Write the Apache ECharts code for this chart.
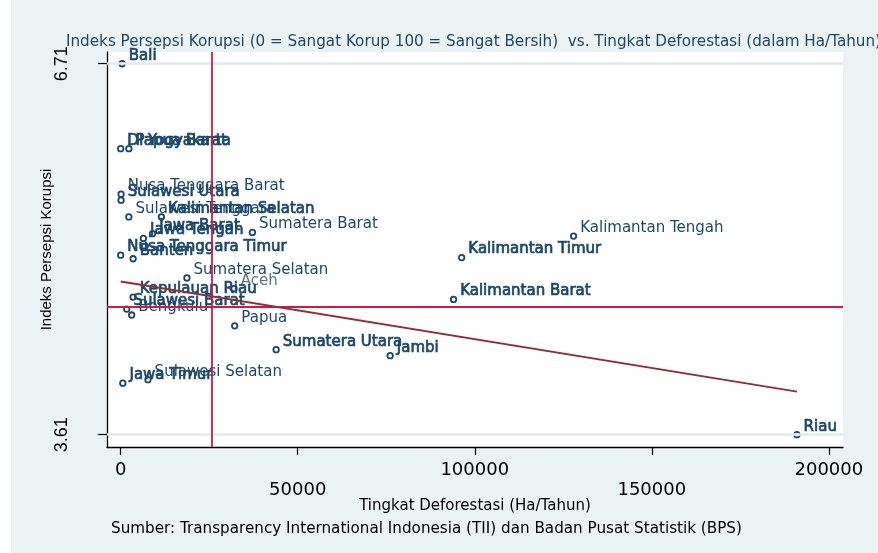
<!DOCTYPE html>
<html>
<head>
<meta charset="utf-8">
<script src="https://cdn.jsdelivr.net/npm/echarts@6/dist/echarts.min.js"></script>
<style>
html,body{margin:0;padding:0;background:#fff;}
#main{width:878px;height:553px;}
</style>
</head>
<body>
<div id="main"></div>
<script>
// data
var provinsi = ['Bali','DI Yogyakarta','Papua Barat','Nusa Tenggara Barat','Sulawesi Utara','Sulawesi Tenggara',
    'Kalimantan Selatan','Jawa Barat','Jawa Tengah','Sumatera Barat','Nusa Tenggara Timur','Banten',
    'Sumatera Selatan','Aceh','Kepulauan Riau','Sulawesi Barat','Bengkulu','Papua','Sumatera Utara','Jambi',
    'Jawa Timur','Sulawesi Selatan','Kalimantan Tengah','Kalimantan Timur','Kalimantan Barat','Riau'];
var deforestasi = [400, 0, 2300, 100, 100, 2300,
    11500, 9000, 6400, 37200, 0, 3500,
    18700, 32000, 3500, 1700, 3100, 32200, 43900, 76100,
    600, 7700, 127900, 96300, 94000, 191000];
var ipk = [6.71, 6.00, 6.00, 5.62, 5.57, 5.43,
    5.43, 5.29, 5.25, 5.30, 5.11, 5.08,
    4.92, 4.83, 4.76, 4.66, 4.61, 4.52, 4.32, 4.27,
    4.04, 4.07, 5.27, 5.09, 4.74, 3.61];
var xTicks = [0, 50000, 100000, 150000, 200000];
var yTicks = [3.61, 6.71];
var rataDeforestasi = 25800;
var rataIpk = 4.685;
var fitX = [0, 191000];
var fitY = [4.89, 3.97];

// labels that look heavier in the picture
var tebal = ['Bali','DI Yogyakarta','Papua Barat','Sulawesi Utara','Kalimantan Selatan','Jawa Barat','Jawa Tengah',
    'Nusa Tenggara Timur','Banten','Kepulauan Riau','Sulawesi Barat','Sumatera Utara','Jambi','Jawa Timur',
    'Kalimantan Timur','Kalimantan Barat','Riau'];

var navy = '#1a476f';
var titik = provinsi.map(function (p, i) {
    var lbl = {};
    if (tebal.indexOf(p) >= 0) {
        lbl.textBorderColor = navy;
        lbl.textBorderWidth = 0.7;
    }
    if (p === 'Aceh') {
        lbl.color = '#56779b';
    }
    return {name: p, value: [deforestasi[i], ipk[i]], label: lbl};
});
var garisFit = fitX.map(function (x, i) { return [x, fitY[i]]; });

var myChart = echarts.init(document.getElementById('main'));
var option = {
    animation: false,
    backgroundColor: '#eaf2f3',
    title: [{
        text: 'Indeks Persepsi Korupsi (0 = Sangat Korup 100 = Sangat Bersih)  vs. Tingkat Deforestasi (dalam Ha/Tahun)',
        left: 61,
        top: 30,
        textStyle: {color: navy, fontFamily: 'DejaVu Sans', fontSize: 15.2, fontWeight: 'normal'}
    }, {
        text: 'Sumber: Transparency International Indonesia (TII) dan Badan Pusat Statistik (BPS)',
        left: 106,
        top: 517,
        textStyle: {color: '#000', fontFamily: 'DejaVu Sans', fontSize: 15.2, fontWeight: 'normal'}
    }],
    graphic: [{
        type: 'rect',
        left: 0, top: 0,
        shape: {width: 11, height: 553},
        style: {fill: '#fff'}
    }],
    grid: {
        left: 107,
        right: 35,
        top: 52,
        bottom: 106,
        show: true,
        backgroundColor: '#fff',
        borderWidth: 0
    },
    xAxis: {
        type: 'value',
        min: -3870,
        max: 204000,
        name: 'Tingkat Deforestasi (Ha/Tahun)',
        nameLocation: 'middle',
        nameGap: 52,
        nameMoveOverlap: false,
        nameTextStyle: {color: '#000', fontFamily: 'DejaVu Sans', fontSize: 15},
        axisLine: {onZero: false, lineStyle: {color: '#000', width: 1.3}},
        axisTick: {customValues: xTicks, length: 8, lineStyle: {color: '#000', width: 1.2}},
        axisLabel: {
            customValues: xTicks,
            color: '#000',
            fontFamily: 'DejaVu Sans',
            fontSize: 18,
            lineHeight: 20,
            margin: 13,
            formatter: function (v) {
                return (v / 50000) % 2 === 1 ? '\n' + v : String(v);
            }
        },
        splitLine: {show: false}
    },
    yAxis: {
        type: 'value',
        min: 3.507,
        max: 6.808,
        name: 'Indeks Persepsi Korupsi',
        nameLocation: 'middle',
        nameGap: 53,
        nameMoveOverlap: false,
        nameTextStyle: {color: '#000', fontFamily: 'Liberation Sans', fontSize: 15},
        axisLine: {onZero: false, lineStyle: {color: '#000', width: 1.3}},
        axisTick: {customValues: yTicks, length: 9, lineStyle: {color: '#000', width: 1.2}},
        axisLabel: {
            customValues: yTicks,
            rotate: 90,
            color: '#000',
            fontFamily: 'Liberation Sans',
            fontSize: 18,
            margin: 36,
            formatter: function (v) { return v.toFixed(2); }
        },
        splitLine: {show: false}
    },
    series: [{
        // faint grid lines at the two tick values
        type: 'line',
        data: [],
        z: 1,
        markLine: {
            silent: true,
            symbol: 'none',
            label: {show: false},
            lineStyle: {color: '#e3ebee', width: 2.5, type: 'solid'},
            data: yTicks.map(function (v) { return {yAxis: v}; })
        }
    }, {
        // reference lines
        type: 'line',
        data: [],
        z: 2,
        markLine: {
            silent: true,
            symbol: 'none',
            label: {show: false},
            lineStyle: {color: '#d31a40', width: 1.8, type: 'solid'},
            data: [{xAxis: rataDeforestasi}, {yAxis: rataIpk}]
        }
    }, {
        type: 'scatter',
        z: 3,
        symbol: 'circle',
        symbolSize: 5.5,
        itemStyle: {color: '#fff', borderColor: navy, borderWidth: 1.8, opacity: 1},
        label: {
            show: true,
            position: 'right',
            distance: 3,
            offset: [0, -8],
            formatter: '{b}',
            color: navy,
            fontFamily: 'DejaVu Sans',
            fontSize: 15
        },
        data: titik
    }, {
        type: 'line',
        z: 5,
        showSymbol: false,
        symbol: 'none',
        lineStyle: {color: '#8e2f39', width: 1.8},
        data: garisFit
    }]
};
myChart.setOption(option);
</script>
</body>
</html>
